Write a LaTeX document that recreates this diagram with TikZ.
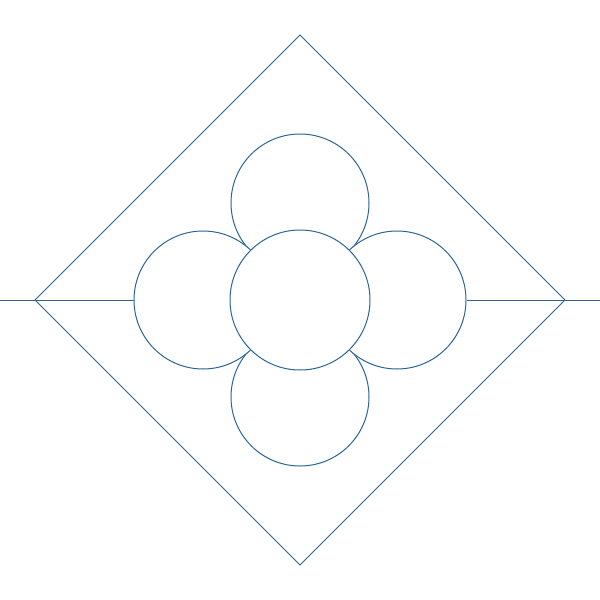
\documentclass[tikz,border=0pt]{standalone}
\definecolor{ink}{RGB}{45,100,150}
\begin{document}
\begin{tikzpicture}[x=1pt,y=-1pt,
  ln/.style={draw=ink,line width=1pt},
  petal/.style={circle,draw=ink,fill=white,line width=1pt,inner sep=0pt,minimum size=138pt},
  core/.style={circle,draw=ink,fill=white,line width=1pt,inner sep=0pt,minimum size=140pt}]
\useasboundingbox (0,0) rectangle (600,600);
\coordinate (T) at (300,35);
\coordinate (R) at (565,300);
\coordinate (B) at (300,565);
\coordinate (L) at (35,300);
\coordinate (W) at (0,300);
\coordinate (E) at (600,300);
\draw[ln] (T) -- (R) -- (B) -- (L) -- cycle;
\node[petal] (pt) at (300,203) {};
\node[petal] (pb) at (300,397) {};
\node[petal] (pl) at (203,300) {};
\node[petal] (pr) at (397,300) {};
\node[core] (c) at (300,300) {};
\draw[ln] (W) -- (pl.west);
\draw[ln] (pr.east) -- (E);
\end{tikzpicture}
\end{document}
